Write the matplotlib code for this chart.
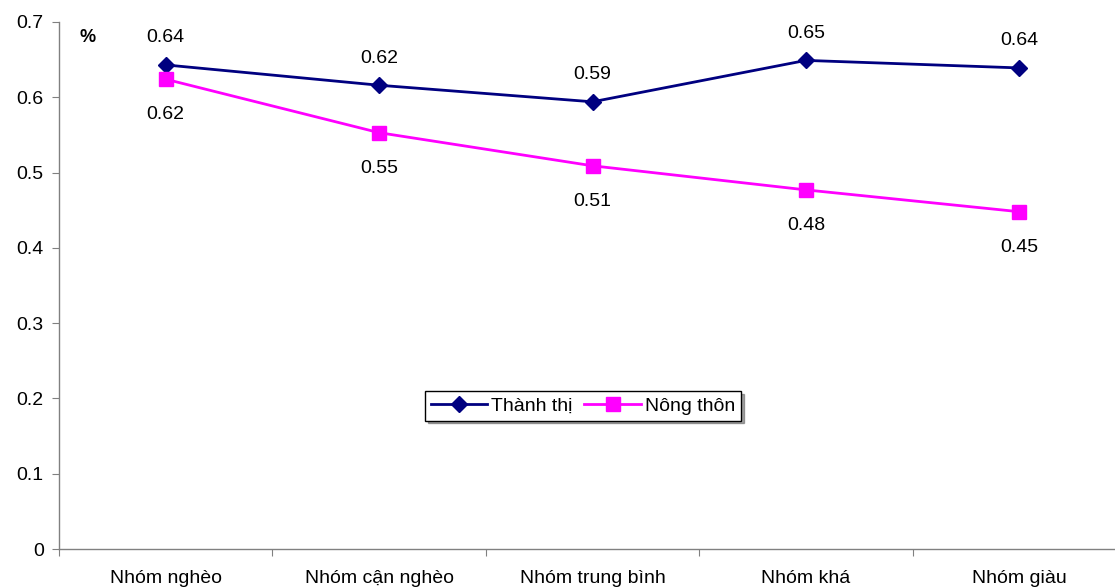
import matplotlib
matplotlib.use("Agg")
import matplotlib.pyplot as plt
from matplotlib.ticker import MultipleLocator, FixedLocator, NullFormatter

plt.rcParams['font.family'] = ['Liberation Sans', 'DejaVu Sans']

categories = ["Nhóm nghèo", "Nhóm cận nghèo", "Nhóm trung bình", "Nhóm khá", "Nhóm giàu"]
thanh_thi = [0.643, 0.616, 0.594, 0.649, 0.639]
nong_thon = [0.624, 0.553, 0.509, 0.477, 0.448]
series_names = ["Thành thị", "Nông thôn"]

FS = 14

W, H = 1115, 587
fig = plt.figure(figsize=(W / 100, H / 100), dpi=100)
left, right, bottom, top = 59, 1126, 549, 22
ax = fig.add_axes([left / W, 1 - bottom / H, (right - left) / W, (bottom - top) / H])

x = list(range(len(categories)))
ax.plot(x, thanh_thi, color="#000080", lw=2.0, marker="D", markersize=8,
        markeredgecolor="#000080", label=series_names[0], zorder=3)
ax.plot(x, nong_thon, color="#FF00FF", lw=2.0, marker="s", markersize=10,
        markeredgecolor="#FF00FF", label=series_names[1], zorder=3)

for xi, v in zip(x, thanh_thi):
    ax.annotate(f"{v:.2f}", (xi, v), xytext=(0, 19.5), textcoords="offset points",
                ha="center", va="center", fontsize=FS)
for xi, v in zip(x, nong_thon):
    ax.annotate(f"{v:.2f}", (xi, v), xytext=(0, -25.5), textcoords="offset points",
                ha="center", va="center", fontsize=FS)

ax.set_xlim(-0.5, len(categories) - 0.5)
ax.set_ylim(0, 0.7)
ax.yaxis.set_major_locator(MultipleLocator(0.1))
ax.set_yticklabels([f"{t:.1f}".replace("0.0", "0") for t in ax.get_yticks()])

# category ticks sit between groups, labels centred under each group
ax.xaxis.set_major_locator(FixedLocator([i - 0.5 for i in range(len(categories) + 1)]))
ax.xaxis.set_major_formatter(NullFormatter())
ax.xaxis.set_minor_locator(FixedLocator(x))
ax.set_xticklabels(categories, minor=True)
ax.tick_params(axis="x", which="minor", length=0, pad=15, labelsize=FS)
ax.tick_params(axis="x", which="major", length=5, color="#808080", direction="out")
ax.tick_params(axis="y", length=5, color="#808080", labelsize=FS, pad=6)

for s in ["top", "right"]:
    ax.spines[s].set_visible(False)
for s in ["left", "bottom"]:
    ax.spines[s].set_color("#808080")
    ax.spines[s].set_linewidth(1.0)

fig.text(88 / W, 1 - 37 / H, "%", ha="center", va="center", fontsize=13, fontweight="bold")

leg = fig.legend(loc="center", bbox_to_anchor=(583 / W, 1 - 406 / H), ncol=2,
                 fontsize=FS, frameon=True, fancybox=False, shadow=True,
                 handlelength=2.9, handletextpad=0.2, columnspacing=0.6,
                 borderpad=0.3, edgecolor="black")
leg.get_frame().set_linewidth(1.0)

fig.savefig("out.png", dpi=100)
